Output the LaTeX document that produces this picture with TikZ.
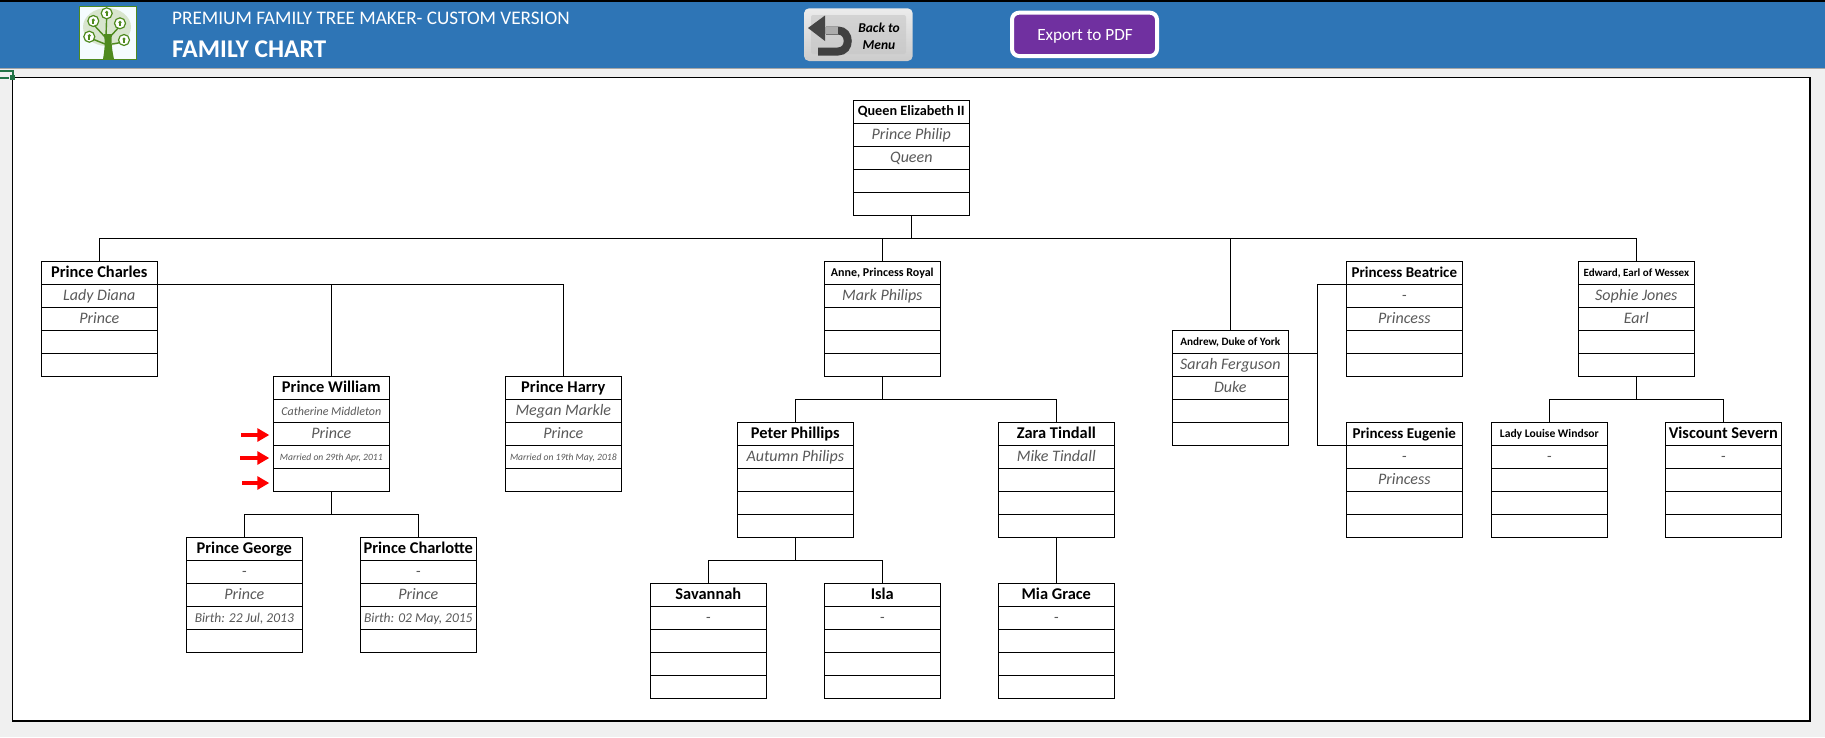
\documentclass[tikz,border=0pt]{standalone}
\usepackage{fontspec}
\setmainfont{Carlito}
\usetikzlibrary{calc,arrows.meta,shadings}
\definecolor{hdr}{HTML}{2E75B6}
\definecolor{pagebg}{HTML}{F0F0F0}
\definecolor{graytxt}{HTML}{595959}
\definecolor{purp}{HTML}{7030A0}
\definecolor{xlgreen}{HTML}{217346}
\definecolor{leafg}{HTML}{4F8A1F}
\tikzset{
  cell/.style={draw=black,line width=1.25pt,fill=white,minimum width=116pt,minimum height=23pt,inner sep=0pt,outer sep=0pt,text height=13pt,text depth=3pt},
  link/.style={draw=black,line width=1.1pt},
  redarrow/.style={draw=red,line width=4.5pt,-{Triangle[length=12pt,width=13pt]},shorten >=4pt},
  headtxt/.style={text=white,inner sep=0pt,anchor=west},
}
\newcommand{\nmA}[1]{{\fontsize{16.4}{16}\selectfont\bfseries #1}}
\newcommand{\nmP}[1]{{\fontsize{15}{15}\selectfont\bfseries #1}}
\newcommand{\nmB}[2]{\raisebox{1pt}{\fontsize{#1}{12}\selectfont\bfseries #2}}
\newcommand{\itA}[1]{{\fontsize{16}{16}\selectfont\itshape\color{graytxt}#1}}
\newcommand{\itD}[1]{{\fontsize{13.5}{14}\selectfont\itshape\color{graytxt}#1}}
\newcommand{\itB}[1]{\raisebox{.5pt}{\fontsize{12}{12}\selectfont\itshape\color{graytxt}#1}}
\newcommand{\itC}[1]{\raisebox{1pt}{\fontsize{9.6}{10}\selectfont\itshape\color{graytxt}#1}}
\newcommand{\person}[8]{%
  \node[cell] (#1-1) at ({#2+58},{#3+11.5}) {\makebox[0pt][c]{#4}};
  \node[cell] (#1-2) at ({#2+58},{#3+34.5}) {\makebox[0pt][c]{#5}};
  \node[cell] (#1-3) at ({#2+58},{#3+57.5}) {\makebox[0pt][c]{#6}};
  \node[cell] (#1-4) at ({#2+58},{#3+80.5}) {\makebox[0pt][c]{#7}};
  \node[cell] (#1-5) at ({#2+58},{#3+103.5}) {\makebox[0pt][c]{#8}};
}
\begin{document}
\begin{tikzpicture}[x=1pt,y=-1pt]
\useasboundingbox (0,0) rectangle (1825,737);
\fill[pagebg] (0,0) rectangle (1825,737);
% header band
\fill[hdr] (0,1.5) rectangle (1825,68);
\fill[black] (0,0) rectangle (1825,1.5);
\fill[gray!70] (0,68) rectangle (1825,69.2);
% selection marks
\fill[xlgreen] (0,69.5) rectangle (14,71.5);
\fill[xlgreen] (12,69.5) rectangle (14,75);
\fill[xlgreen] (0,77) rectangle (9,79);
% frame
\draw[black,line width=1.3pt,fill=white] (12.3,77.3) rectangle (1810,721);
\fill[xlgreen] (10,75) rectangle (15,80);
% logo
\node[draw=leafg,line width=1pt,fill=white!96!cyan,minimum width=57pt,minimum height=53pt,inner sep=0pt] (logo) at (108,32.7) {};
\fill[leafg!22] (107,27) ellipse (24 and 19);
\fill[leafg] (103,59) .. controls (105,48) and (105,42) .. (104,34) -- (112,34) .. controls (111,42) and (112,50) .. (114,59) -- cycle;
\draw[leafg,line width=1.4pt] (106,38) -- (93,24) (106,36) -- (106.7,16) (109,38) -- (120,26) (105,44) -- (90,38) (112,44) -- (124,42);
\foreach \cx/\cy in {93.3/21,106.7/13.3,120/23.3,89.3/36.7,124/40}{
  \draw[leafg,line width=1.2pt,fill=white] (\cx,\cy) circle (5.5);
  \fill[leafg] (\cx,{\cy-1}) circle (1.7);
  \fill[leafg] ({\cx-1},{\cy-1}) rectangle ({\cx+1},{\cy+3});
}
% title
\node[headtxt,font=\fontsize{19.2}{19}\selectfont] (ttl) at (172,18) {PREMIUM FAMILY TREE MAKER- CUSTOM VERSION};
\node[headtxt,font=\fontsize{25.5}{25}\selectfont\bfseries] (sub) at (172,49) {FAMILY CHART};
% back button
\shade[rounded corners=5pt,top color=gray!15,bottom color=gray!40,draw=none] (804,8.3) rectangle (912.7,61);
\fill[rounded corners=2pt,gray!45!white,opacity=.6] (811,15) rectangle (906,54);
\draw[black!75,line width=8pt] (826,30.5) -- (838,30.5) .. controls (851,30.5) and (851,51.5) .. (838,51.5) -- (818,51.5);
\draw[gray!65,line width=7pt] (822,30.5) -- (838,30.5);
\fill[gray!55!black] (808,28) -- (825,15.5) -- (825,41) -- cycle;
\node[align=center,inner sep=0pt,font=\fontsize{13.5}{17}\selectfont\bfseries\itshape] (back) at (879,36) {Back to\\Menu};
% export button
\draw[white,line width=4pt,fill=purp,rounded corners=7pt] (1012,12.7) rectangle (1157,56);
\node[text=white,inner sep=0pt,font=\fontsize{17.2}{17}\selectfont] (export) at (1085,36) {Export to PDF};
% boxes
\person{queen}{853.3}{100.3}{\nmB{14.2}{Queen Elizabeth II}}{\itA{Prince Philip}}{\itA{Queen}}{}{}
\person{charles}{41.3}{261.3}{\nmA{Prince Charles}}{\itA{Lady Diana}}{\itA{Prince}}{}{}
\person{anne}{824.3}{261.3}{\nmB{12}{Anne, Princess Royal}}{\itA{Mark Philips}}{}{}{}
\person{andrew}{1172.3}{330.3}{\nmB{11.2}{Andrew, Duke of York}}{\itA{Sarah Ferguson}}{\itA{Duke}}{}{}
\person{beatrice}{1346.3}{261.3}{\nmP{Princess Beatrice}}{\itA{-}}{\itA{Princess}}{}{}
\person{edward}{1578.3}{261.3}{\nmB{11}{Edward, Earl of Wessex}}{\itA{Sophie Jones}}{\itA{Earl}}{}{}
\person{william}{273.3}{376.3}{\nmA{Prince William}}{\itB{Catherine Middleton}}{\itA{Prince}}{\itC{Married on 29th Apr, 2011}}{}
\person{harry}{505.3}{376.3}{\nmA{Prince Harry}}{\itA{Megan Markle}}{\itA{Prince}}{\itC{Married on 19th May, 2018}}{}
\person{peter}{737.3}{422.3}{\nmA{Peter Phillips}}{\itA{Autumn Philips}}{}{}{}
\person{zara}{998.3}{422.3}{\nmA{Zara Tindall}}{\itA{Mike Tindall}}{}{}{}
\person{eugenie}{1346.3}{422.3}{\nmP{Princess Eugenie}}{\itA{-}}{\itA{Princess}}{}{}
\person{louise}{1491.3}{422.3}{\nmB{11.6}{Lady Louise Windsor}}{\itA{-}}{}{}{}
\person{severn}{1665.3}{422.3}{\nmA{Viscount Severn}}{\itA{-}}{}{}{}
\person{george}{186.3}{537.3}{\nmA{Prince George}}{\itA{-}}{\itA{Prince}}{\itD{Birth: 22 Jul, 2013}}{}
\person{charlotte}{360.3}{537.3}{\nmA{Prince Charlotte}}{\itA{-}}{\itA{Prince}}{\itD{Birth: 02 May, 2015}}{}
\person{savannah}{650.3}{583.3}{\nmA{Savannah}}{\itA{-}}{}{}{}
\person{isla}{824.3}{583.3}{\nmA{Isla}}{\itA{-}}{}{}{}
\person{mia}{998.3}{583.3}{\nmA{Mia Grace}}{\itA{-}}{}{}{}
% connectors
\coordinate (bq) at ($(queen-5.south |- charles-1.north)+(0,-23)$);
\draw[link] (queen-5.south) -- (bq);
\draw[link] (charles-1.north) |- (bq) -| (edward-1.north);
\draw[link] (anne-1.north) -- (anne-1.north |- bq);
\draw[link] (andrew-1.north) -- (andrew-1.north |- bq);
\draw[link] (charles-1.south east) -| (harry-1.north);
\draw[link] (william-1.north) -- (william-1.north |- charles-1.south);
\coordinate (bw) at ($(william-5.south)+(0,23)$);
\draw[link] (william-5.south) -- (bw);
\draw[link] (george-1.north) |- (bw) -| (charlotte-1.north);
\coordinate (ba) at ($(anne-5.south)+(0,23)$);
\draw[link] (anne-5.south) -- (ba);
\draw[link] (peter-1.north) |- (ba) -| (zara-1.north);
\coordinate (bp) at ($(peter-5.south)+(0,23)$);
\draw[link] (peter-5.south) -- (bp);
\draw[link] (savannah-1.north) |- (bp) -| (isla-1.north);
\draw[link] (zara-5.south) -- (mia-1.north);
\coordinate (aj) at ($(andrew-1.south east)+(29,0)$);
\draw[link] (andrew-1.south east) -- (aj);
\draw[link] (beatrice-1.south west) -- (aj |- beatrice-1.south) -- (aj |- eugenie-1.south) -- (eugenie-1.south west);
\coordinate (be) at ($(edward-5.south)+(0,23)$);
\draw[link] (edward-5.south) -- (be);
\draw[link] (louise-1.north) |- (be) -| (severn-1.north);
% red arrows
\coordinate (r1) at (241,435);
\coordinate (r2) at (240,458);
\coordinate (r3) at (242,483);
\draw[redarrow] (r1) -- (r1 -| william-1.west);
\draw[redarrow] (r2) -- (r2 -| william-1.west);
\draw[redarrow] (r3) -- (r3 -| william-1.west);
\end{tikzpicture}
\end{document}
